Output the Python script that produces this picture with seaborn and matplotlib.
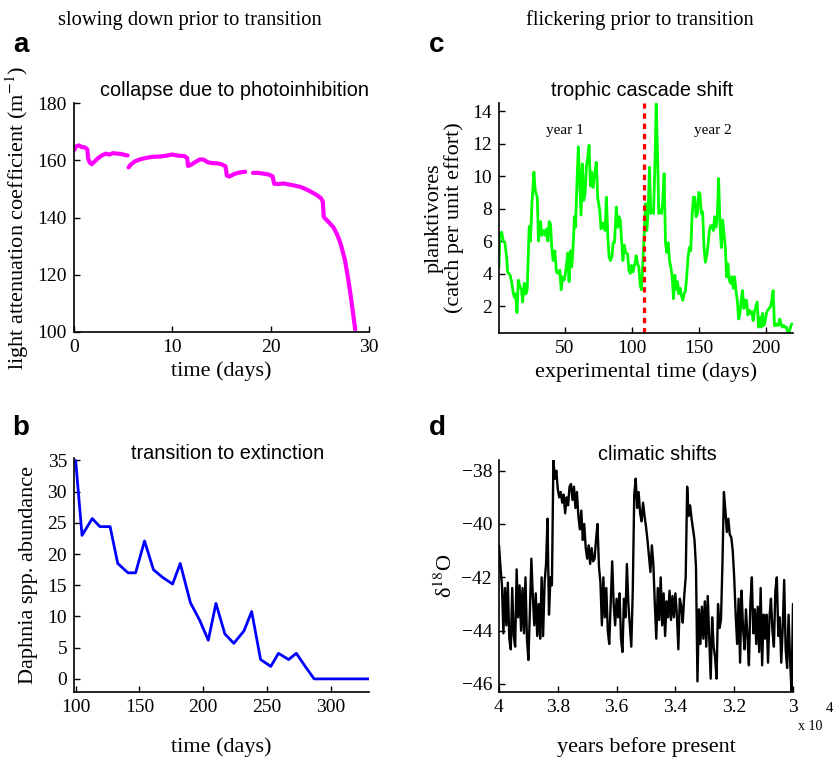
import numpy as np
import pandas as pd
import seaborn as sns
import matplotlib.pyplot as plt

# ---- panel a: light attenuation coefficient (three recorded stretches)
a_t1 = [0, 0.2, 0.5, 0.8, 1.1, 1.35, 1.45, 1.6, 1.8, 2.1, 2.4, 2.8, 3.2, 3.6, 4.0, 4.4, 4.8, 5.1, 5.45]
a_k1 = [163.5, 164.8, 165.2, 164.6, 164.5, 163.8, 160.5, 159.2, 158.6, 159.6, 160.6, 161.6, 162.3, 162.0,
        162.5, 162.3, 162.2, 161.9, 161.7]
a_t2 = [5.55, 5.8, 6.2, 6.7, 7.3, 8.0, 8.7, 9.4, 10.0, 10.6, 11.2, 11.5, 11.6, 11.9, 12.3, 12.8, 13.2,
        13.6, 14.1, 14.6, 15.0, 15.4, 15.55, 15.8, 16.3, 16.8, 17.4]
a_k2 = [157.5, 158.6, 159.6, 160.3, 160.8, 161.2, 161.3, 161.6, 162.0, 161.6, 161.5, 160.8, 158.0, 158.4,
        159.3, 160.3, 160.2, 159.3, 159.0, 158.9, 158.6, 157.9, 154.6, 154.3, 155.2, 155.7, 156.0]
a_t3 = [18.2, 18.7, 19.3, 19.8, 20.2, 20.35, 20.8, 21.3, 21.9, 22.5, 23.1, 23.7, 24.2, 24.7, 25.1, 25.3,
        25.4, 26.0, 26.4, 26.7, 27.0, 27.2, 27.55, 27.9, 28.2, 28.4, 28.6]
a_k3 = [155.6, 155.6, 155.3, 155.0, 154.4, 151.8, 151.7, 151.9, 151.5, 151.1, 150.6, 149.7, 148.8, 147.8,
        146.8, 145.6, 140.2, 138.0, 136.5, 134.5, 132.0, 129.8, 125.2, 118.2, 111.2, 106.0, 100.8]

# ---- panel b: Daphnia abundance
b_days = [100, 105, 113, 119, 127, 133, 141, 147, 154, 161, 168, 176, 182, 190, 197, 204, 210, 217, 224,
          232, 238, 245, 253, 259, 267, 273, 280, 287, 330]
b_abund = [35, 23.0, 25.7, 24.4, 24.4, 18.5, 17.0, 17.0, 22.1, 17.5, 16.3, 15.2, 18.5, 12.2, 9.5, 6.2,
           12.1, 7.2, 5.7, 7.7, 10.8, 3.1, 2.0, 4.1, 3.1, 4.1, 2.0, 0, 0]

# ---- panel c: planktivores
c_days = [1, 1.7, 3, 4.2, 5.4, 6.7, 7.4, 9.2, 10.4, 11.6, 12.4, 13.4, 14.4, 15.4, 16.6, 17.8, 18.6, 19.8,
          21, 22, 23.5, 24.5, 25.5, 27, 28, 29.5, 30.4, 31.9, 32.9, 34.4, 35.4, 36.4, 37.4, 38.4, 39.4,
          40.3, 41.3, 42.6, 43.8, 45.3, 46.3, 47.3, 48.3, 49.5, 50.5, 51.5, 52.2, 53.2, 54.2, 55.2, 56.2,
          57.2, 58, 59.2, 60.1, 61.1, 62.1, 63.1, 64.1, 65.1, 66.1, 67.1, 68.1, 69.1, 70, 71, 72, 73.5,
          74.5, 76, 77, 78, 79, 80, 81, 82, 83, 84, 85, 86, 87, 88.4, 89.4, 90.3, 91.3, 92.3, 93.3, 94.3,
          95.3, 96.8, 97.8, 98.8, 99.8, 100.8, 102.2, 103.2, 104.2, 105.2, 106.2, 107.2,
          109.4, 110.1, 111.1, 112.1, 113.1, 114.1, 115.1, 116.1, 117.1, 118.1, 119.1, 120, 121, 122,
          123, 124, 125, 126, 127, 128, 129, 130, 131, 132, 133, 134, 134.9, 135.9, 136.9, 137.9, 138.9,
          139.9, 140.8, 141.8, 142.8, 143.8, 144.8, 145.8, 146.8, 147.8, 148.8, 149.8, 150.7, 151.7,
          152.7, 153.7, 154.7, 155.7, 156.7, 157.7, 158.7, 159.7, 160.7, 161.6, 162.6, 163.6, 164.6,
          165.6, 166.6, 167.6, 168.6, 169.6, 170.5, 171.5, 172.5, 173.5, 174.5, 175.5, 176.5, 177.5,
          178.5, 179.5, 180.4, 181.4, 182.4, 183.4, 184.4, 185.4, 186.4, 187.4, 188.4, 189.4, 190.3,
          191.3, 192.3, 193.3, 194.3, 195.3, 196.3, 197.3, 198.3, 199.3, 200.2, 201.2, 202.2, 203.2,
          204.2, 205.2, 206.2, 207.2, 208.2, 209.2, 210.1, 211.1, 212.1, 213.1, 214.1, 215.1, 216.1,
          217.1, 218.1, 219.1]
c_cpue = [4.4, 6.45, 6.55, 6.0, 5.9, 5.0, 4.1, 3.9, 3.5, 2.8, 2.55, 2.75, 1.6, 3.6, 3.2, 3.0, 2.25, 3.4,
          2.75, 3.0, 6.9, 6.0, 8.3, 10.25, 9.1, 8.7, 6.0, 7.2, 6.35, 6.65, 6.35, 6.75, 6.0, 7.2, 7.05,
          5.6, 4.8, 5.4, 4.1, 4.0, 4.2, 3.0, 3.8, 3.6, 4.0, 4.7, 5.25, 3.5, 5.4, 4.4, 5.6,
          7.5, 6.85, 9.9, 11.8, 9.7, 7.6, 10.75, 8.5, 8.9, 10.55, 11.15, 11.9, 9.4, 10.25, 9.3, 10.0, 10.85,
          8.7, 7.9, 6.75, 7.1, 7.1, 6.65, 8.7, 6.35, 5.0, 4.8, 5.0, 5.9, 5.9, 8.1, 6.85, 7.5, 7.3, 6.05, 4.8, 5.75,
          5.3, 5.2, 4.2, 4.0, 4.5, 4.1, 4.6, 5.1, 4.6, 4.4, 3.25, 3.0,
          6.85, 8.3, 6.65, 7.8, 10.55, 7.7, 7.9, 7.7, 10.55, 14.45, 11.4, 7.7, 7.9, 7.7,
          8.5, 10.15, 5.9, 5.3, 5.9, 4.8, 4.4, 3.8, 2.45, 3.9, 3.0, 3.5, 2.75, 3.1, 2.65, 2.35, 2.75,
          2.95, 3.8, 5.0, 5.6, 5.4, 7.5, 8.7, 8.7, 7.5, 7.7, 9.0, 8.9, 7.7,
          7.8, 5.6, 4.7, 5.1, 5.75, 6.65, 6.95, 6.95, 6.65, 7.5, 6.85, 7.5, 9.85,
          7.05, 5.6, 7.3, 6.45, 5.6, 3.8, 4.6, 3.6, 3.4, 3.8, 3.1, 3.8, 2.95,
          2.35, 1.2, 1.5, 2.35, 2.95, 1.85, 2.35, 2.35, 1.45, 1.75, 1.55, 1.65, 1.1,
          1.65, 1.95, 2.25, 0.7, 1.3, 0.7, 1.55, 0.8, 1.1, 1.55, 1.75, 1.85, 1.95,
          2.35, 2.95, 0.8, 0.8, 0.9, 0.8, 1.2, 0.9, 0.7, 0.8, 0.7, 0.7, 0.4,
          0.34, 0.7, 0.9]
c_shift_day = 108.7

# ---- panel d: delta 18O ice core record
d_years = [40000, 39950, 39900, 39850, 39800, 39750, 39700, 39650, 39600, 39550,
           39500, 39450, 39400, 39350, 39300, 39250, 39200, 39150, 39100, 39050,
           39000, 38950, 38900, 38850, 38800, 38750, 38700, 38650, 38600, 38550,
           38500, 38450, 38400, 38350, 38300, 38250, 38200, 38150, 38100, 38050,
           38000, 37950, 37900, 37850, 37800, 37750, 37700, 37650, 37600, 37550,
           37500, 37450, 37400, 37350, 37300, 37250, 37200, 37150, 37100, 37050,
           37000, 36950, 36900, 36850, 36800, 36750, 36700, 36650, 36600, 36550,
           36500, 36450, 36400, 36350, 36300, 36250, 36200, 36150, 36100, 36050,
           36000, 35950, 35900, 35850, 35800, 35750, 35700, 35650, 35600, 35550,
           35500, 35450, 35400, 35350, 35300, 35250, 35200, 35150, 35100, 35050,
           35000, 34950, 34900, 34850, 34800, 34750, 34700, 34650, 34600, 34550,
           34500, 34450, 34400, 34350, 34300, 34250, 34200, 34150, 34100, 34050,
           34000, 33950, 33900, 33850, 33800, 33750, 33700, 33650, 33600, 33550,
           33500, 33450, 33400, 33350, 33300, 33250, 33200, 33150, 33100, 33050,
           33000, 32950, 32900, 32850, 32800, 32750, 32700, 32650, 32600, 32550,
           32500, 32450, 32400, 32350, 32300, 32250, 32200, 32150, 32100, 32050,
           32000, 31950, 31900, 31850, 31800, 31750, 31700, 31650, 31600, 31550,
           31500, 31450, 31400, 31350, 31300, 31250, 31200, 31150, 31100, 31050,
           31000, 30950, 30900, 30850, 30800, 30750, 30700, 30650, 30600, 30550,
           30500, 30450, 30400, 30350, 30300, 30250, 30200, 30150, 30100, 30050,
           30000]
d_o18 = [-40.8, -41.6, -42.3, -44.1, -42.4, -43.8, -42.2, -44.3, -44.7, -42.4,
         -44.2, -44.6, -41.7, -43.5, -42.3, -44.0, -42.4, -44.1, -42.0, -44.3,
         -45.1, -43.3, -41.3, -42.7, -43.8, -42.6, -44.2, -43.0, -44.3, -42.0,
         -44.2, -42.2, -41.5, -39.8, -43.4, -42.0, -42.3, -37.6, -38.3, -38.0,
         -38.7, -39.0, -38.8, -39.2, -38.9, -39.6, -39.0, -39.3, -38.6, -38.5,
         -39.1, -38.6, -39.4, -38.8, -39.7, -40.2, -39.5, -40.6, -40.0, -40.9,
         -41.3, -40.8, -41.5, -40.9, -41.4, -41.3, -40.6, -40.0, -41.6, -42.2,
         -43.8, -42.0, -43.5, -42.4, -44.0, -44.5, -42.9, -41.4, -43.0, -43.8,
         -42.8, -43.5, -42.6, -44.3, -44.8, -42.8, -43.5, -41.5, -43.0, -43.8,
         -44.6, -42.5, -38.9, -38.3, -39.4, -38.8, -39.6, -39.9, -39.2, -39.7,
         -40.1, -40.6, -41.2, -41.8, -40.8, -41.5, -43.0, -44.3, -42.4, -43.6,
         -42.0, -43.8, -42.6, -44.2, -42.9, -43.5, -42.5, -43.6, -42.7, -43.5,
         -42.6, -43.4, -44.7, -42.8, -43.1, -43.7, -42.7, -42.0, -38.6, -39.7,
         -39.3, -39.8, -40.2, -40.6, -41.6, -45.9, -43.2, -44.5, -43.1, -44.3,
         -42.9, -44.6, -42.7, -44.2, -45.8, -43.5, -44.6, -45.0, -45.8, -43.0,
         -43.9, -43.6, -41.5, -38.8, -39.5, -40.3, -39.8, -40.4, -40.5, -41.0,
         -42.0, -43.4, -44.5, -42.8, -45.2, -42.5, -43.9, -44.7, -43.2, -44.2,
         -45.3, -43.0, -42.0, -44.1, -43.2, -44.5, -43.1, -44.8, -42.4, -45.3,
         -43.4, -44.3, -43.4, -45.2, -43.5, -42.8, -44.0, -44.6, -42.5, -42.0,
         -44.2, -43.5, -45.2, -43.9, -42.1, -44.7, -45.4, -43.4, -45.1, -46.3,
         -43.0]

W, H = 833, 758

sns.set_style("ticks")
plt.rcParams['font.family'] = ['Liberation Serif', 'DejaVu Serif']
plt.rcParams['mathtext.fontset'] = 'stix'
plt.rcParams['axes.linewidth'] = 1.2
plt.rcParams['axes.edgecolor'] = 'black'
plt.rcParams['axes.labelcolor'] = 'black'
plt.rcParams['text.color'] = 'black'
plt.rcParams['xtick.color'] = 'black'
plt.rcParams['ytick.color'] = 'black'

tick_fs = 14
lab_fs = 16
sans = ['Liberation Sans', 'DejaVu Sans']


def box(l, t, r, b):
    return [l / W, 1 - b / H, (r - l) / W, (b - t) / H]


def style(ax):
    sns.despine(ax=ax)
    ax.tick_params(direction='in', length=4, width=1, labelsize=tick_fs, pad=5)


fig = plt.figure(figsize=(W / 100, H / 100), dpi=100)
ax_a = fig.add_axes(box(74, 103, 369, 332))
ax_c = fig.add_axes(box(499, 103, 793, 333))
ax_b = fig.add_axes(box(74, 458, 369, 692))
ax_d = fig.add_axes(box(499, 460, 793, 692))

# a
df_a = pd.DataFrame({
    't': a_t1 + a_t2 + a_t3,
    'k': a_k1 + a_k2 + a_k3,
    'seg': [1] * len(a_t1) + [2] * len(a_t2) + [3] * len(a_t3),
})
sns.lineplot(data=df_a, x='t', y='k', units='seg', estimator=None, sort=False,
             color='#ff00ff', lw=3, ax=ax_a)
ax_a.set_xlim(0, 30)
ax_a.set_ylim(100, 180)
ax_a.set_xticks([0, 10, 20, 30])
ax_a.set_yticks([100, 120, 140, 160, 180])
ax_a.set_xlabel('time (days)', fontsize=lab_fs, labelpad=4)
ax_a.set_ylabel('light attenuation coefficient (m$^{-1}$)', fontsize=lab_fs, labelpad=5)
style(ax_a)

# b
df_b = pd.DataFrame({'day': b_days, 'n': b_abund})
sns.lineplot(data=df_b, x='day', y='n', estimator=None, sort=False, color='#0000ff', lw=2, ax=ax_b)
ax_b.set_xlim(98.7, 330)
ax_b.set_ylim(-2.1, 35.4)
ax_b.set_xticks([100, 150, 200, 250, 300])
ax_b.set_yticks([0, 5, 10, 15, 20, 25, 30, 35])
ax_b.set_xlabel('time (days)', fontsize=lab_fs, labelpad=15.5)
ax_b.set_ylabel('Daphnia spp. abundance', fontsize=lab_fs, labelpad=7)
style(ax_b)

# c
df_c = pd.DataFrame({'day': c_days, 'cpue': c_cpue})
sns.lineplot(data=df_c, x='day', y='cpue', estimator=None, sort=False, color='#00ff00', lw=2, ax=ax_c)
ax_c.axvline(c_shift_day, color='red', lw=2.3, dashes=(1.7, 1.5))
ax_c.text(50, 12.8, 'year 1', ha='center', va='center', fontsize=11)
ax_c.text(160.5, 12.8, 'year 2', ha='center', va='center', fontsize=11)
ax_c.set_xlim(1, 220)
ax_c.set_ylim(0.34, 14.5)
ax_c.set_xticks([50, 100, 150, 200])
ax_c.set_yticks([2, 4, 6, 8, 10, 12, 14])
ax_c.set_xlabel('experimental time (days)', fontsize=lab_fs, labelpad=4)
ax_c.set_ylabel('planktivores\n(catch per unit effort)', fontsize=lab_fs, labelpad=6,
                linespacing=1.0)
style(ax_c)

# d
df_d = pd.DataFrame({'yr': d_years, 'o18': d_o18})
sns.lineplot(data=df_d, x='yr', y='o18', estimator=None, sort=False, color='black', lw=1.7, ax=ax_d)
ax_d.set_xlim(40000, 30000)
ax_d.set_ylim(-46.3, -37.6)
ax_d.set_xticks([40000, 38000, 36000, 34000, 32000, 30000])
ax_d.set_xticklabels(['4', '3.8', '3.6', '3.4', '3.2', '3'])
ax_d.set_yticks([-46, -44, -42, -40, -38])
ax_d.set_xlabel('years before present', fontsize=lab_fs, labelpad=15.5)
ax_d.set_ylabel('δ$^{18}$O', fontsize=lab_fs, labelpad=3)
style(ax_d)
fig.text(798 / W, 1 - 727 / H, 'x 10', fontsize=10, va='center', ha='left')
fig.text(826 / W, 1 - 709 / H, '4', fontsize=11, va='center', ha='left')

# panel titles
for x, y, s in [(235, 91, 'collapse due to photoinhibition'), (642, 91, 'trophic cascade shift'),
                (228, 453, 'transition to extinction'), (657, 455, 'climatic shifts')]:
    fig.text(x / W, 1 - y / H, s, ha='center', va='center', fontsize=14.3, family=sans)

# column headers
fig.text(190 / W, 1 - 20 / H, 'slowing down prior to transition', ha='center', va='center', fontsize=14.8)
fig.text(640 / W, 1 - 20 / H, 'flickering prior to transition', ha='center', va='center', fontsize=14.8)

# panel letters
for x, y, s in [(21, 45, 'a'), (21, 428, 'b'), (437, 45, 'c'), (437, 428, 'd')]:
    fig.text(x / W, 1 - y / H, s, ha='center', va='center', fontsize=20, fontweight='bold', family=sans)

fig.savefig('out.png', dpi=100)
plt.close(fig)
